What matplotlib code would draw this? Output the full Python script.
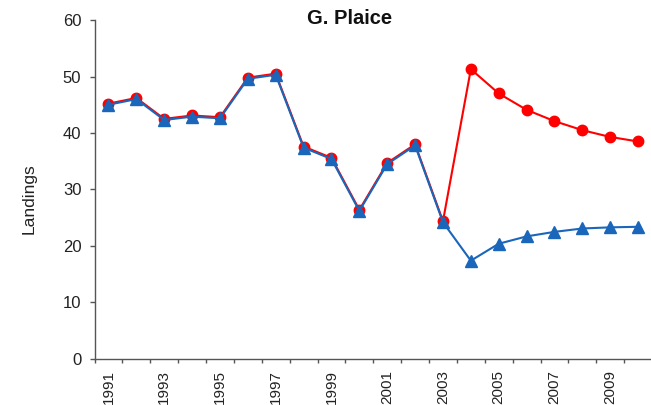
import numpy as np
import matplotlib
matplotlib.use("Agg")
import matplotlib.pyplot as plt

plt.rcParams['font.family'] = ['Liberation Sans', 'DejaVu Sans']

# Data
years = list(range(1991, 2011))
# red series (circles)
landings_red = [45.2, 46.2, 42.5, 43.1, 42.8, 49.8, 50.5, 37.6, 35.6, 26.4,
                34.7, 38.0, 24.4, 51.3, 47.0, 44.1, 42.1, 40.5, 39.3, 38.5]
# blue series (triangles)
landings_blue = [45.0, 46.0, 42.3, 42.9, 42.6, 49.6, 50.3, 37.4, 35.4, 26.2,
                 34.5, 37.8, 24.2, 17.4, 20.4, 21.7, 22.5, 23.1, 23.3, 23.4]
label_years = [str(y) for y in years[::2]]

fig = plt.figure(figsize=(6.51, 4.05), dpi=100)
ax = fig.add_axes([0.1452, 0.1136, 0.8564, 0.837])

x = np.arange(len(years))
ax.plot(x, landings_red, color='#FF0000', marker='o', markersize=7.5,
        linewidth=1.5, zorder=2)
ax.plot(x, landings_blue, color='#1A66BA', marker='^', markersize=8.5,
        linewidth=1.5, zorder=3)

ax.set_xlim(-0.5, len(years) - 0.5)
ax.set_ylim(0, 60)
ax.set_yticks(range(0, 61, 10))

# category axis: ticks between years, labels at every other year
ax.set_xticks(np.arange(-0.5, len(years), 1.0))
ax.set_xticklabels([])
ax.set_xticks(x[::2], minor=True)
ax.set_xticklabels(label_years, minor=True, rotation=90, fontsize=11,
                   color='#222222')
ax.tick_params(axis='x', which='major', direction='out', length=3,
               width=1, color='#555555')
ax.tick_params(axis='x', which='minor', length=0, pad=8)
ax.tick_params(axis='y', direction='out', length=3.5, width=1,
               color='#555555', labelsize=12, labelcolor='#222222', pad=6)

for side in ['top', 'right']:
    ax.spines[side].set_visible(False)
for side in ['left', 'bottom']:
    ax.spines[side].set_color('#555555')
    ax.spines[side].set_linewidth(1)

fig.text(350 / 651, 1 - 18 / 405, 'G. Plaice', ha='center', va='center',
         fontsize=14.5, fontweight='bold', color='#111111')
fig.text(29 / 651, 0.51, 'Landings', rotation=90, ha='center', va='center',
         fontsize=12.5, color='#222222')

fig.savefig('out.png', dpi=100)
